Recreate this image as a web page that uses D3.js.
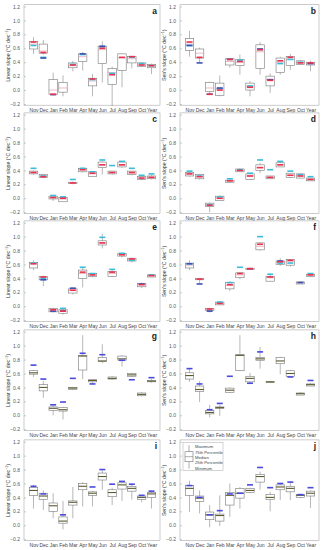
<!DOCTYPE html>
<html>
<head>
<meta charset="utf-8">
<script src="https://cdn.jsdelivr.net/npm/d3@7"></script>
<style>
  body { margin: 0; background: #fff; }
  text { font-family: "Liberation Sans", Arial, sans-serif; }
</style>
</head>
<body>
<svg id="drawing_region"></svg>
<script>
const months = ["Nov","Dec","Jan","Feb","Mar","Apr","May","Jun","Jul","Aug","Sep","Oct","Year"];
const yTicks = [-0.2, 0.0, 0.2, 0.4, 0.6, 0.8, 1.0, 1.2];

// [min, q1, median, q3, max] per month
const aStats = [[0.52,0.59,0.66,0.70,0.76],[0.51,0.53,0.56,0.66,0.72],[-0.08,-0.06,0.00,0.15,0.25],[-0.09,-0.03,0.03,0.11,0.21],[0.27,0.32,0.35,0.39,0.42],[0.28,0.41,0.48,0.52,0.55],[-0.09,0.06,0.13,0.17,0.23],[0.11,0.38,0.58,0.63,0.70],[-0.23,0.08,0.25,0.31,0.34],[0.04,0.28,0.46,0.52,0.52],[0.31,0.39,0.45,0.48,0.49],[0.33,0.34,0.36,0.39,0.40],[0.23,0.32,0.35,0.37,0.38]];
const aRed  = [0.69,0.54,-0.06,null,0.36,null,0.16,0.60,0.22,0.47,0.48,0.36,0.35];
const aCyan = [0.64,0.47,null,null,0.37,0.51,0.15,0.62,0.24,null,0.47,0.38,0.35];
const aBlue = [null,0.46,-0.065,null,null,0.52,null,0.63,null,null,null,null,null];

const bStats = [[0.48,0.57,0.66,0.74,0.85],[0.40,0.46,0.53,0.59,0.61],[-0.06,-0.02,0.03,0.11,0.12],[-0.09,-0.08,0.02,0.10,0.21],[0.32,0.36,0.41,0.45,0.46],[0.22,0.35,0.40,0.44,0.51],[-0.09,0.00,0.05,0.10,0.13],[0.22,0.31,0.55,0.65,0.69],[-0.04,0.06,0.15,0.20,0.24],[0.22,0.25,0.40,0.46,0.48],[0.29,0.35,0.44,0.48,0.52],[0.36,0.37,0.39,0.42,0.43],[0.27,0.36,0.38,0.40,0.42]];
const bRed  = [0.69,0.47,-0.06,0.00,0.44,0.41,0.04,0.58,0.14,0.42,0.47,0.39,0.39];
const bCyan = [0.64,null,null,0.02,null,0.43,0.06,0.58,null,0.38,0.44,0.40,null];
const bBlue = [0.64,0.39,-0.06,0.03,0.44,null,null,0.59,0.15,null,null,null,0.38];

const cStats = [[0.34,0.35,0.37,0.39,0.40],[0.29,0.30,0.32,0.34,0.34],[-0.04,-0.01,0.01,0.03,0.04],[-0.05,-0.05,-0.01,0.01,0.02],[0.20,0.21,0.22,0.23,0.24],[0.37,0.38,0.41,0.43,0.44],[0.31,0.31,0.35,0.38,0.38],[0.34,0.44,0.48,0.52,0.53],[0.34,0.35,0.37,0.39,0.39],[0.44,0.45,0.48,0.52,0.52],[0.33,0.34,0.36,0.39,0.39],[0.26,0.27,0.29,0.31,0.31],[0.27,0.28,0.30,0.32,0.33]];
const cRed  = [0.37,0.31,0.01,0.00,0.22,0.41,0.36,0.48,0.37,0.48,0.37,0.29,0.30];
const cCyan = [0.43,0.32,0.04,0.02,0.27,0.43,0.38,0.55,0.47,0.53,0.43,0.33,0.35];

const dStats = [[0.31,0.32,0.35,0.37,0.38],[0.27,0.28,0.31,0.34,0.34],[-0.20,-0.12,-0.10,-0.07,-0.06],[-0.03,-0.03,0.00,0.03,0.04],[0.23,0.23,0.25,0.26,0.27],[0.38,0.38,0.40,0.42,0.43],[0.27,0.27,0.32,0.35,0.36],[0.36,0.40,0.44,0.48,0.51],[0.28,0.28,0.30,0.32,0.32],[0.45,0.45,0.48,0.51,0.53],[0.29,0.30,0.33,0.36,0.36],[0.29,0.29,0.32,0.35,0.35],[0.25,0.25,0.27,0.29,0.29]];
const dRed  = [0.35,0.31,-0.10,0.00,0.25,0.40,0.32,0.44,0.30,0.48,0.33,0.32,0.27];
const dCyan = [0.39,0.32,-0.09,0.02,0.28,0.41,0.36,0.55,0.41,0.53,0.39,0.34,0.31];

const eStats = [[0.52,0.55,0.61,0.63,0.66],[0.29,0.38,0.42,0.43,0.44],[-0.09,-0.08,-0.05,-0.03,-0.02],[-0.12,-0.10,-0.07,-0.05,-0.03],[0.17,0.19,0.23,0.25,0.27],[0.27,0.40,0.47,0.52,0.55],[0.42,0.43,0.45,0.47,0.47],[0.83,0.88,0.91,0.94,1.04],[0.42,0.43,0.47,0.50,0.52],[0.70,0.72,0.74,0.76,0.77],[0.63,0.65,0.67,0.69,0.70],[0.26,0.28,0.31,0.33,0.34],[0.42,0.42,0.44,0.45,0.45]];
const eRed  = [0.61,0.42,-0.05,-0.07,0.23,0.49,0.45,0.91,0.49,0.74,0.68,0.31,0.44];
const eCyan = [0.62,0.40,null,-0.03,null,0.56,0.47,0.99,0.53,0.76,0.66,null,0.45];
const eBlue = [null,0.38,-0.07,-0.07,0.26,null,null,null,null,null,null,0.32,null];

const fStats = [[0.52,0.55,0.59,0.62,0.66],[0.32,0.38,0.39,0.40,0.40],[-0.09,-0.06,-0.04,-0.03,-0.02],[0.02,0.02,0.04,0.06,0.07],[0.22,0.25,0.30,0.34,0.36],[0.39,0.41,0.45,0.48,0.49],[0.53,0.53,0.54,0.54,0.55],[0.80,0.81,0.86,0.91,0.92],[0.36,0.36,0.41,0.43,0.45],[0.58,0.60,0.63,0.65,0.69],[0.57,0.59,0.64,0.67,0.68],[0.32,0.32,0.34,0.35,0.36],[0.43,0.43,0.45,0.46,0.46]];
const fRed  = [null,0.39,-0.04,0.04,0.31,0.47,0.54,0.89,0.42,0.64,0.66,null,0.45];
const fCyan = [0.61,null,null,0.06,0.34,0.56,null,1.00,0.46,0.62,0.62,null,0.47];
const fBlue = [0.61,0.32,-0.07,null,null,null,0.54,null,null,0.65,null,0.34,null];

const gStats = [[0.55,0.59,0.61,0.64,0.65],[0.25,0.35,0.40,0.44,0.49],[0.00,0.07,0.10,0.12,0.14],[-0.06,0.06,0.08,0.11,0.12],[0.36,0.37,0.39,0.40,0.41],[0.52,0.65,0.85,0.86,1.15],[0.46,0.48,0.50,0.51,0.51],[0.75,0.77,0.78,0.83,1.02],[0.51,0.52,0.53,0.55,0.56],[0.70,0.79,0.81,0.85,0.86],[0.55,0.56,0.58,0.60,0.61],[0.27,0.28,0.30,0.32,0.33],[0.47,0.48,0.49,0.50,0.52]];
const gBlue = [0.72,0.52,0.15,0.19,0.53,0.89,0.45,0.87,null,0.79,0.51,null,0.54];

const hStats = [[0.48,0.52,0.57,0.61,0.67],[0.19,0.34,0.37,0.42,0.49],[-0.03,0.02,0.04,0.07,0.15],[-0.01,0.10,0.11,0.12,0.15],[0.32,0.33,0.36,0.39,0.40],[0.63,0.64,0.86,0.87,1.15],[0.46,0.48,0.53,0.56,0.61],[0.67,0.79,0.81,0.83,0.98],[0.47,0.47,0.48,0.48,0.49],[0.59,0.74,0.78,0.83,0.84],[0.55,0.56,0.60,0.64,0.65],[0.29,0.29,0.31,0.32,0.33],[0.42,0.42,0.44,0.45,0.46]];
const hBlue = [0.67,0.45,0.08,0.17,0.56,null,0.46,0.91,null,null,0.55,null,0.50];

const iStats = [[0.24,0.43,0.50,0.54,0.58],[0.22,0.37,0.42,0.46,0.50],[0.10,0.20,0.28,0.32,0.46],[-0.06,0.03,0.06,0.12,0.35],[0.10,0.29,0.33,0.35,0.55],[0.27,0.51,0.56,0.60,0.62],[0.27,0.43,0.46,0.48,0.49],[0.51,0.65,0.70,0.75,0.78],[0.29,0.41,0.47,0.51,0.54],[0.35,0.52,0.58,0.61,0.62],[0.37,0.49,0.53,0.56,0.58],[0.33,0.37,0.40,0.42,0.43],[0.24,0.40,0.45,0.47,0.50]];
const iBlue = [0.56,0.45,null,0.15,null,null,0.55,0.80,0.59,0.63,0.59,0.43,0.49];

const jStats = [[0.19,0.43,0.53,0.57,0.64],[0.17,0.34,0.39,0.42,0.50],[-0.03,0.08,0.15,0.19,0.29],[-0.01,0.06,0.14,0.16,0.43],[0.12,0.29,0.43,0.47,0.60],[0.24,0.39,0.46,0.53,0.55],[0.46,0.47,0.50,0.53,0.54],[0.51,0.62,0.70,0.73,0.77],[0.20,0.37,0.40,0.44,0.48],[0.36,0.51,0.55,0.58,0.60],[0.36,0.48,0.53,0.56,0.63],[0.39,0.40,0.43,0.44,0.45],[0.25,0.42,0.46,0.49,0.50]];
const jBlue = [0.57,0.40,0.15,0.21,0.45,0.46,0.58,0.83,0.54,0.60,0.62,0.44,0.54];

const legendLabels = ["Maximum","75th Percentile","Median","25th Percentile","Minimum"];

const panels = [
  {id:'a', col:0, row:0, stats:aStats, red:aRed, cyan:aCyan, blue:aBlue},
  {id:'b', col:1, row:0, stats:bStats, red:bRed, cyan:bCyan, blue:bBlue},
  {id:'c', col:0, row:1, stats:cStats, red:cRed, cyan:cCyan},
  {id:'d', col:1, row:1, stats:dStats, red:dRed, cyan:dCyan},
  {id:'e', col:0, row:2, stats:eStats, red:eRed, cyan:eCyan, blue:eBlue},
  {id:'f', col:1, row:2, stats:fStats, red:fRed, cyan:fCyan, blue:fBlue},
  {id:'g', col:0, row:3, stats:gStats, blue:gBlue, dark:true},
  {id:'h', col:1, row:3, stats:hStats, blue:hBlue, dark:true},
  {id:'i', col:0, row:4, stats:iStats, blue:iBlue, dark:true},
  {id:'j', col:1, row:4, stats:jStats, blue:jBlue, dark:true, legend:true}
];

const W = 322, H = 550;
const colX = [24, 180], colW = [136, 139];
const rowTop = [6.5, 114.7, 222.7, 331.7, 441.7];
const plotH = 97.5;

const svg = d3.select('#drawing_region').attr('width', W).attr('height', H);

panels.forEach(p => {
  const x0 = colX[p.col], w = colW[p.col], y0 = rowTop[p.row];
  const g = svg.append('g').attr('transform', `translate(${x0},${y0})`);

  const xscale = d3.scalePoint().domain(months).range([9.5, w - 8.5]);
  const yscale = d3.scaleLinear().domain([-0.2, 1.2]).range([plotH, 0]);

  // frame
  g.append('rect')
    .attr('x', 0).attr('y', -1.8).attr('width', w).attr('height', plotH + 3)
    .attr('fill', 'none').attr('stroke', '#aaa').attr('stroke-width', 0.6);

  const yaxis = d3.axisLeft(yscale).tickValues(yTicks).tickFormat(d3.format('.1f')).tickSize(-2).tickPadding(4);
  const ya = g.append('g').call(yaxis);
  ya.select('.domain').remove();
  ya.selectAll('line').attr('stroke', '#999').attr('stroke-width', 0.5);
  ya.selectAll('text').attr('font-size', 5).attr('fill', '#555').style('font-family', 'Liberation Sans, Arial, sans-serif');

  const xaxis = d3.axisBottom(xscale).tickSize(0).tickPadding(3);
  const xa = g.append('g').attr('transform', `translate(0,${plotH + 1.2})`).call(xaxis);
  xa.select('.domain').remove();
  xa.selectAll('text').attr('font-size', 5).attr('fill', '#444').style('font-family', 'Liberation Sans, Arial, sans-serif');

  // y label
  const lx = p.col === 0 ? -14 : -14;
  g.append('text')
    .attr('transform', `translate(${lx},${plotH / 2}) rotate(-90)`)
    .attr('text-anchor', 'middle')
    .attr('font-size', 5.2).attr('fill', '#333')
    .text(p.col === 0 ? 'Linear slope (°C dec' : "Sen's slope (°C dec")
    .append('tspan').attr('dy', -2).attr('font-size', 3.6).text('−1')
    .select(function() { return this.parentNode; })
    .append('tspan').attr('dy', 2).text(')');

  // panel letter
  g.append('text')
    .attr('x', w - 3).attr('y', 7.5)
    .attr('text-anchor', 'end').attr('font-size', 8.5).attr('font-weight', 'bold')
    .attr('fill', '#222').text(p.id);

  const bw = 8.4, half = bw / 2;
  const boxes = g.selectAll('.box').data(p.stats).enter().append('g')
    .attr('transform', (d, i) => `translate(${xscale(months[i])},0)`);

  boxes.append('line')
    .attr('x1', 0).attr('x2', 0)
    .attr('y1', d => yscale(d[4])).attr('y2', d => yscale(d[0]))
    .attr('stroke', '#888').attr('stroke-width', 0.6);

  boxes.append('rect')
    .attr('x', -half).attr('width', bw)
    .attr('y', d => yscale(d[3]))
    .attr('height', d => Math.max(0.8, yscale(d[1]) - yscale(d[3])))
    .attr('fill', '#fff').attr('stroke', '#777').attr('stroke-width', 0.6);

  boxes.append('line')
    .attr('x1', -half).attr('x2', half)
    .attr('y1', d => yscale(d[2])).attr('y2', d => yscale(d[2]))
    .attr('stroke', p.dark ? '#5c5a2e' : '#e58a98')
    .attr('stroke-width', p.dark ? 1.1 : 0.6);

  const drawMarks = (vals, color) => {
    if (!vals) return;
    g.selectAll(null).data(vals.map((v, i) => ({v, m: months[i]})).filter(d => d.v !== null))
      .enter().append('line')
      .attr('x1', d => xscale(d.m) - 3).attr('x2', d => xscale(d.m) + 3)
      .attr('y1', d => yscale(d.v)).attr('y2', d => yscale(d.v))
      .attr('stroke', color).attr('stroke-width', 1.6);
  };
  drawMarks(p.cyan, '#3bbcd9');
  drawMarks(p.blue, p.dark ? '#4a4adf' : '#3f51b5');
  drawMarks(p.red, '#e8324f');

  if (p.legend) {
    const lg = g.append('g').attr('transform', 'translate(3,1)');
    lg.append('rect').attr('x', 0).attr('y', 0).attr('width', 40).attr('height', 28)
      .attr('fill', '#fff').attr('stroke', '#aaa').attr('stroke-width', 0.5);
    lg.append('line').attr('x1', 6).attr('x2', 6).attr('y1', 2.5).attr('y2', 26)
      .attr('stroke', '#777').attr('stroke-width', 0.6);
    lg.append('rect').attr('x', 2).attr('y', 9).attr('width', 8).attr('height', 10)
      .attr('fill', '#fff').attr('stroke', '#777').attr('stroke-width', 0.6);
    lg.append('line').attr('x1', 2).attr('x2', 10).attr('y1', 14).attr('y2', 14)
      .attr('stroke', '#777').attr('stroke-width', 0.6);
    const ly = [3.5, 9.5, 14.5, 19.5, 25.5];
    lg.selectAll(null).data(legendLabels).enter().append('text')
      .attr('x', 12).attr('y', (d, i) => ly[i] + 1.5)
      .attr('font-size', 4.2).attr('fill', '#444').text(d => d);
  }
});
</script>
</body>
</html>
